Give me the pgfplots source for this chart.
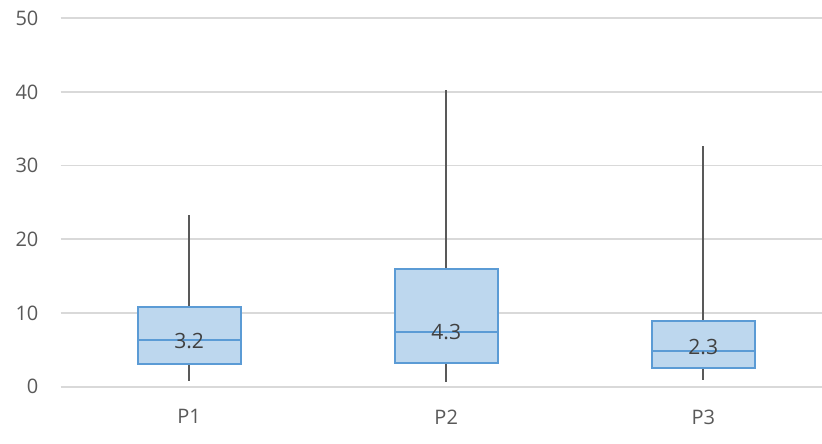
\documentclass[border=0pt]{standalone}
\usepackage{fontspec}
\setmainfont{Open Sans}
\usepackage{pgfplots}
\pgfplotsset{compat=1.18}
\usepgfplotslibrary{statistics}

\definecolor{gridgray}{HTML}{D9D9D9}
\definecolor{ticktext}{HTML}{595959}
\definecolor{labeltext}{HTML}{404040}
\definecolor{boxline}{HTML}{5B9BD5}
\definecolor{boxfill}{HTML}{BDD7EE}
\definecolor{whisk}{HTML}{595959}

\begin{document}
\begin{tikzpicture}
	\begin{axis}[
			name=ax,
			scale only axis,
			width=571pt, height=276.3pt,
			xmin=0.5, xmax=3.462,
			ymin=0, ymax=50,
			axis line style={draw=none},
			ytick={0,10,...,50},
			xtick={1,2,3},
			xticklabels={P1,P2,P3},
			major tick length=0pt,
			ymajorgrids,
			grid style={gridgray, line width=1.3pt},
			/pgf/number format/assume math mode=true,
			ticklabel style={font=\fontsize{15}{18}\selectfont, text=ticktext, inner sep=0pt},
			yticklabel style={xshift=-16.5pt},
			xticklabel style={yshift=-17pt},
			boxplot/draw direction=y,
			boxplot/box extend=0.4,
			boxplot/whisker extend=0,
			boxplot/every box/.style={draw=boxline, fill=boxfill, line width=1.4pt},
			boxplot/every median/.style={draw=boxline, line width=1.4pt},
			boxplot/every whisker/.style={draw=whisk, line width=1.4pt},
		]

		% P1
		\addplot[boxplot prepared={
				draw position=1,
				lower whisker=0.77, lower quartile=3.08,
				median=6.34,
				upper quartile=10.78, upper whisker=23.34}]
			coordinates {};
		% P2
		\addplot[boxplot prepared={
				draw position=2,
				lower whisker=0.68, lower quartile=3.2,
				median=7.46,
				upper quartile=15.97, upper whisker=40.27}]
			coordinates {};
		% P3
		\addplot[boxplot prepared={
				draw position=3,
				lower whisker=0.9, lower quartile=2.5,
				median=4.84,
				upper quartile=8.92, upper whisker=32.7}]
			coordinates {};

		\node[text=labeltext, inner sep=0pt, font=\fontsize{15.8}{19}\selectfont] at (axis cs:1,6.24) {3.2};
		\node[text=labeltext, inner sep=0pt, font=\fontsize{15.8}{19}\selectfont] at (axis cs:2,7.36) {4.3};
		\node[text=labeltext, inner sep=0pt, font=\fontsize{15.8}{19}\selectfont] at (axis cs:3,5.32) {2.3};
	\end{axis}
	\pgfresetboundingbox
	\path[use as bounding box] ([xshift=-45.5pt,yshift=-43pt]ax.south west) rectangle ([yshift=13.7pt]ax.north east);
\end{tikzpicture}
\end{document}
